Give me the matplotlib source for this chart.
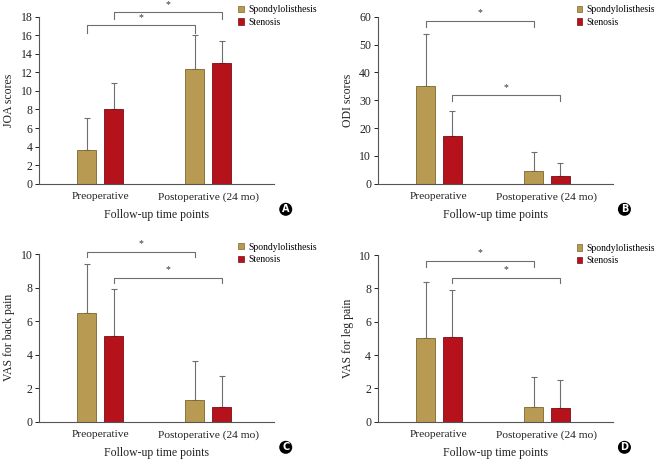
import matplotlib
matplotlib.use("Agg")
import matplotlib.pyplot as plt
from matplotlib.patches import Circle
import numpy as np

plt.rcParams['font.family'] = ['Liberation Serif', 'DejaVu Serif']

groups = ["Preoperative", "Postoperative (24 mo)"]
series_names = ["Spondylolisthesis", "Stenosis"]
colors = ["#B89A52", "#B5121B"]
edge_colors = ["#7a6630", "#7a0c12"]

# Panel A: JOA
joa_spondy = [3.6, 12.4]
joa_spondy_sd = [3.45, 3.6]
joa_sten = [8.0, 13.0]
joa_sten_sd = [2.8, 2.4]
# Panel B: ODI
odi_spondy = [35.0, 4.4]
odi_spondy_sd = [18.7, 6.9]
odi_sten = [17.0, 2.8]
odi_sten_sd = [9.2, 4.6]
# Panel C: VAS back
vasb_spondy = [6.5, 1.3]
vasb_spondy_sd = [2.9, 2.35]
vasb_sten = [5.1, 0.9]
vasb_sten_sd = [2.8, 1.8]
# Panel D: VAS leg
vasl_spondy = [5.0, 0.9]
vasl_spondy_sd = [3.4, 1.8]
vasl_sten = [5.1, 0.8]
vasl_sten_sd = [2.8, 1.7]

panels = [
    dict(label="A", ylabel="JOA scores", ymax=18, yticks=[0, 2, 4, 6, 8, 10, 12, 14, 16, 18],
         s=joa_spondy, ssd=joa_spondy_sd, t=joa_sten, tsd=joa_sten_sd,
         brackets=[((0, 0, 1, 0), 17.1, 16.2), ((0, 1, 1, 1), 18.5, 17.8)],
         rect=[0.0601, 0.6015, 0.3589, 0.3623]),
    dict(label="B", ylabel="ODI scores", ymax=60, yticks=[0, 10, 20, 30, 40, 50, 60],
         s=odi_spondy, ssd=odi_spondy_sd, t=odi_sten, tsd=odi_sten_sd,
         brackets=[((0, 0, 1, 0), 58.6, 56.4), ((0, 1, 1, 1), 31.8, 29.8)],
         rect=[0.578, 0.6015, 0.3589, 0.3623]),
    dict(label="C", ylabel="VAS for back pain", ymax=10, yticks=[0, 2, 4, 6, 8, 10],
         s=vasb_spondy, ssd=vasb_spondy_sd, t=vasb_sten, tsd=vasb_sten_sd,
         brackets=[((0, 0, 1, 0), 10.14, 9.8), ((0, 1, 1, 1), 8.59, 8.25)],
         rect=[0.0601, 0.0852, 0.3589, 0.3638]),
    dict(label="D", ylabel="VAS for leg pain", ymax=10, yticks=[0, 2, 4, 6, 8, 10],
         s=vasl_spondy, ssd=vasl_spondy_sd, t=vasl_sten, tsd=vasl_sten_sd,
         brackets=[((0, 0, 1, 0), 9.66, 9.3), ((0, 1, 1, 1), 8.64, 8.3)],
         rect=[0.578, 0.0852, 0.3589, 0.3616]),
]

fig = plt.figure(figsize=(6.54, 4.61), dpi=100)
x = np.arange(len(groups))
off = 0.124
w = 0.176
gray = "#6e6e6e"

for p in panels:
    ax = fig.add_axes(p["rect"])
    vals = [p["s"], p["t"]]
    sds = [p["ssd"], p["tsd"]]
    for i in range(2):
        xi = x + (i * 2 - 1) * off
        ax.bar(xi, vals[i], width=w, color=colors[i], edgecolor=edge_colors[i],
               linewidth=0.6, label=series_names[i], zorder=2)
        ax.errorbar(xi, vals[i], yerr=[np.zeros(2), sds[i]], fmt="none",
                    ecolor=gray, elinewidth=0.8, capsize=2.2, capthick=0.8, zorder=1)
    for (g1, s1, g2, s2), yb, yt in p["brackets"]:
        x1 = g1 + (s1 * 2 - 1) * off
        x2 = g2 + (s2 * 2 - 1) * off
        ax.plot([x1, x1, x2, x2], [yt, yb, yb, yt], color=gray, lw=0.8, clip_on=False)
        ax.text((x1 + x2) / 2, yb + p["ymax"] * 0.02, "*", ha="center", va="bottom",
                fontsize=7, color="#333333")
    ax.set_xlim(-0.565, 1.61)
    ax.set_ylim(0, p["ymax"])
    ax.set_yticks(p["yticks"])
    ax.set_xticks(x)
    ax.set_xticklabels(groups, fontsize=8.2)
    ax.tick_params(axis="x", length=0, pad=6, colors="#222222")
    ax.tick_params(axis="y", length=3, width=0.7, labelsize=8.5, pad=2, colors="#222222",
                   direction="out")
    for sp in ["top", "right"]:
        ax.spines[sp].set_visible(False)
    for sp in ["left", "bottom"]:
        ax.spines[sp].set_color("#555555")
        ax.spines[sp].set_linewidth(0.8)
    ax.set_ylabel(p["ylabel"], fontsize=8.5, color="#222222", labelpad=4)
    ax.set_xlabel("Follow-up time points", fontsize=8.5, color="#222222", labelpad=5)
    leg = ax.legend(loc="upper left", bbox_to_anchor=(0.83, 1.09), frameon=False,
                    fontsize=6.9, handlelength=0.6, handleheight=0.6, handletextpad=0.45,
                    labelspacing=0.35, borderaxespad=0)
    for h in leg.legend_handles:
        h.set_linewidth(0.5)
    # Panel letter circle
    bx, by, _, _ = p["rect"]
    cx = bx + 0.3589 + 11.7 / 654
    cy = by - 25.6 / 461
    fig.patches.append(Circle((cx * 654, cy * 461), 6.5, transform=None,
                              facecolor="black", edgecolor="none"))
    fig.text(cx, cy, p["label"], ha="center", va="center", color="white",
             fontsize=7, fontweight="bold", family="DejaVu Sans")

fig.savefig("out.png", dpi=100)
